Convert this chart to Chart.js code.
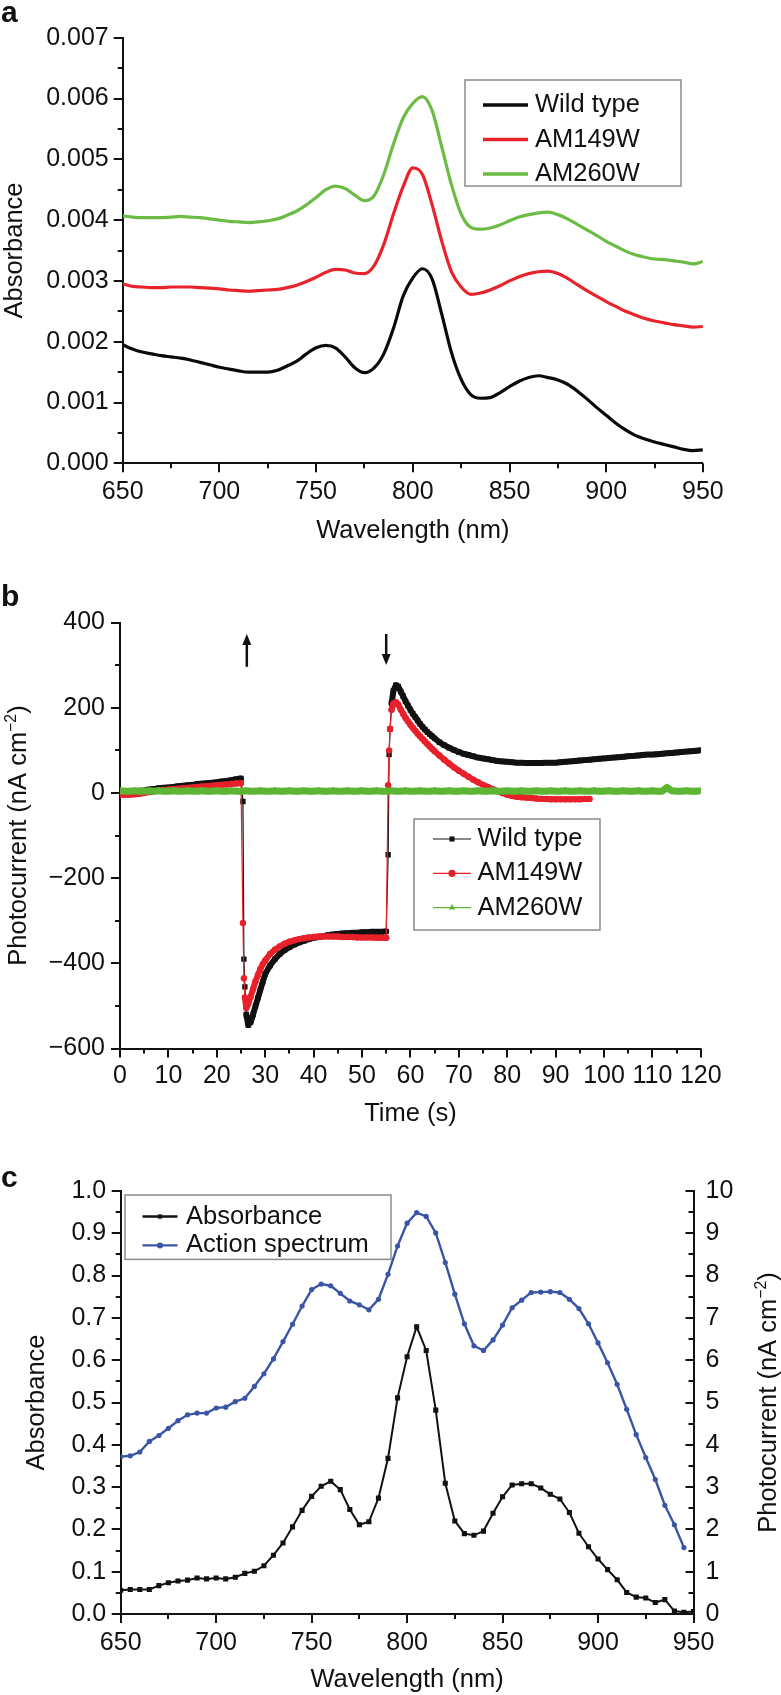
<!DOCTYPE html>
<html><head><meta charset="utf-8">
<script src="https://cdn.jsdelivr.net/npm/chart.js@4.4.1/dist/chart.umd.min.js"></script>
<style>
html,body{margin:0;padding:0;background:#fff;}
body{width:781px;height:1695px;position:relative;overflow:hidden;}
canvas{position:absolute;left:0;}
</style></head><body>
<canvas id="ca" width="781" height="560" style="top:0px"></canvas>
<canvas id="cb" width="781" height="570" style="top:560px"></canvas>
<canvas id="cc" width="781" height="565" style="top:1130px"></canvas>
<script>
const FONT = "'Liberation Sans', Arial, Helvetica, sans-serif";

// ---------- Panel a data ----------
const aWavelength = [650,655,660,665,670,675,680,685,690,695,700,705,710,715,720,725,730,735,740,745,750,755,760,765,770,775,780,785,790,795,800,805,810,815,820,825,830,835,840,845,850,855,860,865,870,875,880,885,890,895,900,905,910,915,920,925,930,935,940,945,950];
const aWildType = [0.00195,0.00188,0.00183,0.00180,0.00177,0.00175,0.00173,0.00170,0.00166,0.00162,0.00158,0.00155,0.00152,0.00150,0.00150,0.00150,0.00153,0.00160,0.00168,0.00180,0.00190,0.00194,0.00190,0.00175,0.00157,0.00149,0.00157,0.00180,0.00222,0.00275,0.00305,0.00320,0.00303,0.00245,0.00182,0.00138,0.00113,0.00107,0.00108,0.00116,0.00126,0.00135,0.00141,0.00144,0.00141,0.00137,0.00130,0.00119,0.00106,0.00092,0.00079,0.00066,0.00055,0.00046,0.00040,0.00035,0.00031,0.00027,0.00023,0.00021,0.00022];
const aAM149W = [0.00295,0.00291,0.00290,0.00289,0.00289,0.00290,0.00290,0.00290,0.00289,0.00288,0.00287,0.00285,0.00284,0.00283,0.00284,0.00285,0.00286,0.00289,0.00293,0.00299,0.00306,0.00314,0.00319,0.00318,0.00313,0.00312,0.00325,0.00360,0.00410,0.00455,0.00486,0.00475,0.00425,0.00365,0.00315,0.00290,0.00278,0.00280,0.00285,0.00292,0.00300,0.00307,0.00312,0.00315,0.00316,0.00312,0.00304,0.00294,0.00284,0.00275,0.00266,0.00258,0.00250,0.00244,0.00238,0.00234,0.00231,0.00228,0.00226,0.00224,0.00225];
const aAM260W = [0.00407,0.00405,0.00404,0.00404,0.00404,0.00405,0.00406,0.00405,0.00404,0.00402,0.00400,0.00398,0.00397,0.00396,0.00397,0.00399,0.00402,0.00408,0.00415,0.00425,0.00437,0.00450,0.00456,0.00452,0.00441,0.00432,0.00440,0.00475,0.00525,0.00568,0.00592,0.00603,0.00580,0.00520,0.00458,0.00410,0.00388,0.00385,0.00387,0.00392,0.00399,0.00405,0.00409,0.00412,0.00413,0.00409,0.00402,0.00393,0.00384,0.00375,0.00365,0.00357,0.00349,0.00343,0.00339,0.00336,0.00335,0.00333,0.00331,0.00328,0.00332];
const aSeriesLabels = ['Wild type','AM149W','AM260W'];
const aXTicks = [650,700,750,800,850,900,950];
const aXTickLabels = ['650','700','750','800','850','900','950'];
const aXMinor = [675,725,775,825,875,925];
const aYTicks = [0,0.001,0.002,0.003,0.004,0.005,0.006,0.007];
const aYTickLabels = ['0.000','0.001','0.002','0.003','0.004','0.005','0.006','0.007'];
const aYMinor = [0.0005,0.0015,0.0025,0.0035,0.0045,0.0055,0.0065];

// ---------- Panel b data ----------
const bWtTime = [0,1,2,3,4,5,6,7,8,9,10,11,12,13,14,15,16,17,18,19,20,21,22,23,24,25,
  25.4,25.6,25.8,26.1,26.5,27,27.5,28,28.5,29,29.5,30,31,32,33,34,35,36,37,38,39,40,41,42,43,44,45,46,47,48,49,50,51,52,53,54,55,
  55.4,55.6,55.8,56.1,56.5,57,57.5,58,58.5,59,59.5,60,60.5,61,61.5,62,62.5,63,63.5,64,64.5,65,
  66,67,68,69,70,71,72,73,74,75,76,77,78,79,80,81,82,83,84,85,86,87,88,89,90,91,92,93,94,95,96,97,98,99,100,101,102,103,104,105,106,107,108,109,110,111,112,113,114,115,116,117,118,119,120];
const bWtCurrent = [1,2,3,4,5,6,8,9,11,12,13,14,16,17,18,19,21,22,23,24,25,27,28,30,32,34,
  -20,-390,-455,-520,-545,-538,-520,-500,-481,-462,-443,-425,-405,-390,-378,-369,-362,-356,-351,-347,-343,-340,-338,-336,-334,-332,-331,-330,-329,-328,-328,-327,-327,-326,-326,-326,-325,
  -145,90,150,210,240,253,250,238,227,215,205,195,186,178,170,162,155,149,143,138,133,128,
  119,112,106,101,96,92,89,86,83,81,79,77,75,74,73,72,71,71,70,70,70,70,71,71,71,72,73,74,75,76,77,78,79,80,81,82,83,84,85,86,87,88,89,90,90,91,92,93,94,95,96,97,98,99,100];
const bMutTime = [0,1,2,3,4,5,6,7,8,9,10,11,12,13,14,15,16,17,18,19,20,21,22,23,24,25,
  25.4,25.6,25.8,26.1,26.5,27,27.5,28,28.5,29,29.5,30,31,32,33,34,35,36,37,38,39,40,41,42,43,44,45,46,47,48,49,50,51,52,53,54,55,
  55.4,55.6,55.8,56.1,56.5,57,57.5,58,58.5,59,59.5,60,60.5,61,61.5,62,62.5,63,63.5,64,64.5,65,
  66,67,68,69,70,71,72,73,74,75,76,77,78,79,80,81,82,83,84,85,86,87,88,89,90,91,92,93,94,95,96,97];
const bMutCurrent = [-4,-4,-4,-3,-2,0,2,4,6,7,8,9,10,11,12,13,14,15,16,17,18,19,20,21,22,23,
  -305,-435,-480,-505,-495,-478,-460,-442,-427,-413,-402,-393,-378,-368,-360,-354,-349,-346,-343,-341,-339,-338,-337,-337,-337,-337,-337,-338,-338,-338,-339,-339,-339,-339,-340,-340,-340,
  18,100,150,195,210,213,207,196,186,176,168,160,153,146,139,133,127,121,115,109,103,98,
  88,78,69,60,52,45,38,31,25,19,14,9,4,0,-4,-7,-9,-10,-11,-12,-13,-14,-14,-15,-15,-15,-15,-15,-15,-15,-14,-14];
const bM260Time = [0,1,2,3,4,5,6,7,8,9,10,11,12,13,14,15,16,17,18,19,20,21,22,23,24,25,26,27,28,29,30,31,32,33,34,35,36,37,38,39,40,41,42,43,44,45,46,47,48,49,50,51,52,53,54,55,56,57,58,59,60,61,62,63,64,65,66,67,68,69,70,71,72,73,74,75,76,77,78,79,80,81,82,83,84,85,86,87,88,89,90,91,92,93,94,95,96,97,98,99,100,101,102,103,104,105,106,107,108,109,110,111,112,113,114,115,116,117,118,119,120];
const bM260Current = [5,4,4,5,4,4,5,4,5,4,4,5,4,4,5,4,4,5,4,4,5,4,4,5,4,4,5,4,4,5,4,4,5,4,4,5,4,4,5,4,4,5,4,4,5,4,4,5,4,4,5,4,4,5,4,4,5,4,4,5,4,4,5,4,4,5,4,4,5,4,4,5,4,4,5,4,4,5,4,4,5,4,4,5,4,4,5,4,4,5,4,4,5,4,4,5,4,4,5,4,4,5,4,4,5,4,4,5,4,4,5,4,4,13,5,4,4,5,4,4,5];
const bSeriesLabels = ['Wild type','AM149W','AM260W'];
const bXTicks = [0,10,20,30,40,50,60,70,80,90,100,110,120];
const bXTickLabels = ['0','10','20','30','40','50','60','70','80','90','100','110','120'];
const bXMinor = [5,15,25,35,45,55,65,75,85,95,105,115];
const bYTicks = [-600,-400,-200,0,200,400];
const bYTickLabels = ['\u2212600','\u2212400','\u2212200','0','200','400'];
const bYMinor = [-500,-300,-100,100,300];
const bArrowTime = [26.2, 55.0];
const bArrowFrom = [296, 373];
const bArrowTo = [373, 300];

// ---------- Panel c data ----------
const cWavelength = [650,655,660,665,670,675,680,685,690,695,700,705,710,715,720,725,730,735,740,745,750,755,760,765,770,775,780,785,790,795,800,805,810,815,820,825,830,835,840,845,850,855,860,865,870,875,880,885,890,895,900,905,910,915,920,925,930,935,940,945,950];
const cAbsorbance = [0.056,0.058,0.058,0.058,0.067,0.074,0.078,0.080,0.085,0.083,0.085,0.083,0.087,0.096,0.101,0.114,0.139,0.168,0.206,0.245,0.278,0.302,0.314,0.294,0.247,0.211,0.218,0.274,0.368,0.511,0.608,0.679,0.623,0.482,0.309,0.220,0.190,0.186,0.196,0.238,0.277,0.305,0.308,0.308,0.298,0.283,0.272,0.240,0.191,0.159,0.130,0.105,0.081,0.051,0.040,0.038,0.027,0.034,0.007,0.004,0.006];
const cAction = [3.72,3.74,3.83,4.08,4.22,4.39,4.57,4.71,4.75,4.75,4.87,4.89,5.02,5.10,5.38,5.68,6.03,6.44,6.85,7.28,7.67,7.80,7.76,7.58,7.40,7.31,7.19,7.44,8.03,8.70,9.24,9.49,9.40,9.01,8.31,7.56,6.86,6.34,6.23,6.48,6.83,7.24,7.42,7.60,7.61,7.62,7.60,7.44,7.22,6.86,6.41,5.94,5.43,4.84,4.24,3.70,3.18,2.57,2.11,1.57,null];
const cSeriesLabels = ['Absorbance','Action spectrum'];
const cXTicks = [650,700,750,800,850,900,950];
const cXTickLabels = ['650','700','750','800','850','900','950'];
const cXMinor = [675,725,775,825,875,925];
const cYTicks = [0,0.1,0.2,0.3,0.4,0.5,0.6,0.7,0.8,0.9,1.0];
const cYTickLabels = ['0.0','0.1','0.2','0.3','0.4','0.5','0.6','0.7','0.8','0.9','1.0'];
const cYMinor = [0.05,0.15,0.25,0.35,0.45,0.55,0.65,0.75,0.85,0.95];
const cY2Ticks = [0,1,2,3,4,5,6,7,8,9,10];
const cY2TickLabels = ['0','1','2','3','4','5','6','7','8','9','10'];
const cY2Minor = [0.5,1.5,2.5,3.5,4.5,5.5,6.5,7.5,8.5,9.5];

// ---------- helpers ----------
Chart.defaults.font.family = FONT;
Chart.defaults.color = '#111';

function pts(xs, ys){ return xs.map((x,i)=>({x:x, y:ys[i]})); }

function drawMarker(ctx, style, x, y, r, color){
  ctx.fillStyle = color; ctx.beginPath();
  if (style === 'rect') { const s = r*Math.SQRT1_2; ctx.rect(x-s, y-s, 2*s, 2*s); }
  else if (style === 'triangle') { ctx.moveTo(x, y-r); ctx.lineTo(x+r*0.866, y+r*0.5); ctx.lineTo(x-r*0.866, y+r*0.5); ctx.closePath(); }
  else { ctx.arc(x, y, r, 0, Math.PI*2); }
  ctx.fill();
}

const TICKFONT = {family: FONT, size: 25};
const TITLEFONT = {family: FONT, size: 25.5};
const BORDER = {display: true, color: '#111', width: 2};
const NOGRID = {display: false, drawTicks: false, drawOnChartArea: false};

function axis(opts, values, labels, padding, extra){
  return Object.assign({
    type: 'linear', grid: NOGRID, border: BORDER,
    afterBuildTicks: (scale)=>{ scale.ticks = values.map(v=>({value:v})); },
    ticks: {font: TICKFONT, color: '#111', padding: padding, maxRotation: 0, autoSkip: false,
            callback: (v, i)=> labels[i]}
  }, opts, extra || {});
}

const customTicks = {
  id: 'customTicks',
  afterDraw(chart, args, o){
    const ctx = chart.ctx;
    ctx.save(); ctx.strokeStyle = '#111'; ctx.lineWidth = 2; ctx.lineCap = 'butt';
    (o.items||[]).forEach(it=>{
      const sc = chart.scales[it.scale];
      const draw = (v, len)=>{
        const p = Math.round(sc.getPixelForValue(v));
        ctx.beginPath();
        if (sc.isHorizontal()) { const y = chart.chartArea.bottom; ctx.moveTo(p, y); ctx.lineTo(p, y + len); }
        else { const x = it.side === 'left' ? chart.chartArea.left : chart.chartArea.right; ctx.moveTo(x, p); ctx.lineTo(x + len*it.dir, p); }
        ctx.stroke();
      };
      it.major.forEach(v=>draw(v, it.majorLen));
      it.minor.forEach(v=>draw(v, it.minorLen));
    });
    ctx.restore();
  }
};

const boxLegend = {
  id: 'boxLegend',
  afterDraw(chart, args, o){
    const ctx = chart.ctx;
    ctx.save();
    ctx.strokeStyle = '#8a8a8a'; ctx.lineWidth = 1.5;
    ctx.strokeRect(o.x, o.y, o.w, o.h);
    o.rows.forEach((idx, i)=>{
      const ds = chart.data.datasets[idx];
      const y = o.firstY + i*o.gap;
      ctx.strokeStyle = ds.borderColor; ctx.lineWidth = o.lineWidth;
      ctx.beginPath(); ctx.moveTo(o.lineX0, y); ctx.lineTo(o.lineX1, y); ctx.stroke();
      if (o.markers) drawMarker(ctx, ds.pointStyle, (o.lineX0+o.lineX1)/2, y, o.markerR, ds.borderColor);
      ctx.fillStyle = '#111'; ctx.font = o.size + 'px ' + FONT; ctx.textBaseline = 'middle'; ctx.textAlign = 'left';
      ctx.fillText(ds.label, o.textX, y);
    });
    ctx.restore();
  }
};

const panelText = {
  id: 'panelText',
  afterDraw(chart, args, o){
    const ctx = chart.ctx;
    ctx.save(); ctx.fillStyle = '#111';
    if (o.letter) {
      ctx.font = 'bold ' + o.letter.size + 'px ' + FONT; ctx.textBaseline = 'alphabetic'; ctx.textAlign = 'left';
      ctx.fillText(o.letter.text, o.letter.x, o.letter.y);
    }
    (o.titles||[]).forEach(t=>{
      const cy = chart.chartArea.top + (chart.chartArea.bottom - chart.chartArea.top)/2;
      ctx.save();
      ctx.translate(t.x, cy); ctx.rotate(-Math.PI/2);
      const big = t.size + 'px ' + FONT, small = (t.size*0.62) + 'px ' + FONT;
      ctx.font = big; const w1 = ctx.measureText(t.main).width; const w3 = ctx.measureText(t.tail).width;
      ctx.font = small; const w2 = ctx.measureText(t.sup).width;
      let sx = -(w1+w2+w3)/2; const base = t.size*0.36;
      ctx.textBaseline = 'alphabetic'; ctx.textAlign = 'left';
      ctx.font = big; ctx.fillText(t.main, sx, base); sx += w1;
      ctx.font = small; ctx.fillText(t.sup, sx, base - t.size*0.40); sx += w2;
      ctx.font = big; ctx.fillText(t.tail, sx, base);
      ctx.restore();
    });
    ctx.restore();
  }
};

const arrows = {
  id: 'arrows',
  afterDatasetsDraw(chart, args, o){
    if (!o.times) return;
    const ctx = chart.ctx, xs = chart.scales.x, ys = chart.scales.y;
    ctx.save(); ctx.strokeStyle = '#111'; ctx.fillStyle = '#111'; ctx.lineWidth = 2.5;
    o.times.forEach((t, i)=>{
      const px = xs.getPixelForValue(t), p0 = ys.getPixelForValue(o.from[i]), p1 = ys.getPixelForValue(o.to[i]);
      const dir = p1 < p0 ? -1 : 1, head = 11, hw = 4.5;
      ctx.beginPath(); ctx.moveTo(px, p0); ctx.lineTo(px, p1 - dir*head*0.6); ctx.stroke();
      ctx.beginPath(); ctx.moveTo(px, p1); ctx.lineTo(px - hw, p1 - dir*head); ctx.lineTo(px + hw, p1 - dir*head); ctx.closePath(); ctx.fill();
    });
    ctx.restore();
  }
};

function fitW(w){ return (s)=>{ s.width = w; }; }
function fitH(h){ return (s)=>{ s.height = h; }; }

// segment width: thin line across the fast light-on / light-off jumps, thick band elsewhere
function bandWidth(thick){
  return (c)=>{
    const dx = c.p1.parsed.x - c.p0.parsed.x, dy = Math.abs(c.p1.parsed.y - c.p0.parsed.y);
    return (dy / dx > 100) ? 1.2 : thick;
  };
}

// ---------- Panel a ----------
new Chart(document.getElementById('ca'), {
  type: 'line',
  data: { datasets: [
    {label: aSeriesLabels[0], data: pts(aWavelength, aWildType), borderColor: '#0a0a0a', borderWidth: 3.2, pointRadius: 0, cubicInterpolationMode: 'monotone', order: 3},
    {label: aSeriesLabels[1], data: pts(aWavelength, aAM149W), borderColor: '#e8232b', borderWidth: 3.2, pointRadius: 0, cubicInterpolationMode: 'monotone', order: 2},
    {label: aSeriesLabels[2], data: pts(aWavelength, aAM260W), borderColor: '#6cbb45', borderWidth: 3.2, pointRadius: 0, cubicInterpolationMode: 'monotone', order: 1}
  ]},
  options: {
    responsive: false, animation: false, devicePixelRatio: 1,
    layout: { autoPadding: false, padding: {left: 0, right: 78.1, top: 37.7, bottom: 0} },
    plugins: {
      legend: {display: false}, tooltip: {enabled: false},
      customTicks: { items: [
        {scale: 'x', major: aXTicks, minor: aXMinor, majorLen: 9, minorLen: 5},
        {scale: 'y', side: 'left', dir: -1, major: aYTicks, minor: aYMinor, majorLen: 9, minorLen: 5}
      ]},
      boxLegend: { x: 465, y: 80, w: 216, h: 106, rows: [0,1,2], firstY: 105, gap: 34.5, lineX0: 483, lineX1: 528, lineWidth: 3.5, textX: 535, size: 25.5, markers: false },
      panelText: { letter: {text: 'a', x: 1, y: 22, size: 30} }
    },
    scales: {
      x: axis({min: 650, max: 950, afterFit: fitH(96.7),
               title: {display: true, text: 'Wavelength (nm)', font: TITLEFONT, color: '#111', padding: {top: 0, bottom: 14}}},
              aXTicks, aXTickLabels, 13.5),
      y: axis({min: 0, max: 0.007, afterFit: fitW(122.7),
               title: {display: true, text: 'Absorbance', font: TITLEFONT, color: '#111', padding: {top: 0, bottom: 0}}},
              aYTicks, aYTickLabels, 14)
    }
  },
  plugins: [customTicks, boxLegend, panelText]
});

// ---------- Panel b ----------
new Chart(document.getElementById('cb'), {
  type: 'line',
  data: { datasets: [
    {label: bSeriesLabels[0], data: pts(bWtTime, bWtCurrent), borderColor: '#111111', backgroundColor: '#111111', borderWidth: 6, pointStyle: 'rect', pointRadius: 3.8, pointBorderWidth: 0, borderJoinStyle: 'round', borderCapStyle: 'round', segment: {borderWidth: bandWidth(6)}, order: 3},
    {label: bSeriesLabels[1], data: pts(bMutTime, bMutCurrent), borderColor: '#e8202a', backgroundColor: '#e8202a', borderWidth: 6, pointStyle: 'circle', pointRadius: 3.2, pointBorderWidth: 0, borderJoinStyle: 'round', borderCapStyle: 'round', segment: {borderWidth: bandWidth(6)}, order: 2},
    {label: bSeriesLabels[2], data: pts(bM260Time, bM260Current), borderColor: '#5db534', backgroundColor: '#5db534', borderWidth: 7, pointStyle: 'triangle', pointRadius: 4, pointBorderWidth: 0, borderJoinStyle: 'round', order: 1}
  ]},
  options: {
    responsive: false, animation: false, devicePixelRatio: 1,
    layout: { autoPadding: false, padding: {left: 0, right: 80.2, top: 62.5, bottom: 0} },
    plugins: {
      legend: {display: false}, tooltip: {enabled: false},
      customTicks: { items: [
        {scale: 'x', major: bXTicks, minor: bXMinor, majorLen: 9, minorLen: 5},
        {scale: 'y', side: 'left', dir: -1, major: bYTicks, minor: bYMinor, majorLen: 9, minorLen: 5}
      ]},
      boxLegend: { x: 414, y: 259, w: 186, h: 111, rows: [0,1,2], firstY: 279, gap: 34.3, lineX0: 433, lineX1: 471, lineWidth: 1.2, textX: 477.5, size: 25.5, markers: true, markerR: 3.6 },
      panelText: { letter: {text: 'b', x: 1, y: 46, size: 30},
                   titles: [{x: 17, main: 'Photocurrent (nA cm', sup: '\u22122', tail: ')', size: 25.5}] },
      arrows: { times: bArrowTime, from: bArrowFrom, to: bArrowTo }
    },
    scales: {
      x: axis({min: 0, max: 120, afterFit: fitH(81.4),
               title: {display: true, text: 'Time (s)', font: TITLEFONT, color: '#111', padding: {top: 0, bottom: 0.7}}},
              bXTicks, bXTickLabels, 13),
      y: axis({min: -600, max: 400, afterFit: fitW(120), title: {display: false}},
              bYTicks, bYTickLabels, 15)
    }
  },
  plugins: [customTicks, boxLegend, panelText, arrows]
});

// ---------- Panel c ----------
new Chart(document.getElementById('cc'), {
  type: 'line',
  data: { datasets: [
    {label: cSeriesLabels[0], data: pts(cWavelength, cAbsorbance), yAxisID: 'y', borderColor: '#111111', backgroundColor: '#111111', borderWidth: 2, pointStyle: 'rect', pointRadius: 3.6, pointBorderWidth: 0, order: 2},
    {label: cSeriesLabels[1], data: pts(cWavelength, cAction), yAxisID: 'y2', borderColor: '#3a55a5', backgroundColor: '#3a55a5', borderWidth: 2.4, pointStyle: 'circle', pointRadius: 2.6, pointBorderWidth: 0, order: 1}
  ]},
  options: {
    responsive: false, animation: false, devicePixelRatio: 1,
    layout: { autoPadding: false, padding: {left: 0, right: 0, top: 61, bottom: 0} },
    plugins: {
      legend: {display: false}, tooltip: {enabled: false},
      customTicks: { items: [
        {scale: 'x', major: cXTicks, minor: cXMinor, majorLen: 9, minorLen: 5},
        {scale: 'y', side: 'left', dir: -1, major: cYTicks, minor: cYMinor, majorLen: 9, minorLen: 5},
        {scale: 'y2', side: 'right', dir: -1, major: cY2Ticks, minor: cY2Minor, majorLen: 8, minorLen: 5}
      ]},
      boxLegend: { x: 125, y: 65, w: 266, h: 64.4, rows: [0,1], firstY: 86.5, gap: 28.9, lineX0: 142.5, lineX1: 177.5, lineWidth: 2.4, textX: 186, size: 25.5, markers: true, markerR: 3 },
      panelText: { letter: {text: 'c', x: 1, y: 57, size: 30},
                   titles: [{x: 767, main: 'Photocurrent (nA cm', sup: '\u22122', tail: ')', size: 25.5}] }
    },
    scales: {
      x: axis({min: 650, max: 950, afterFit: fitH(81),
               title: {display: true, text: 'Wavelength (nm)', font: TITLEFONT, color: '#111', padding: {top: 0, bottom: 0.2}}},
              cXTicks, cXTickLabels, 14),
      y: axis({position: 'left', min: 0, max: 1.0, afterFit: fitW(120.7),
               title: {display: true, text: 'Absorbance', font: TITLEFONT, color: '#111', padding: {top: 22, bottom: 0}}},
              cYTicks, cYTickLabels, 14.5),
      y2: axis({position: 'right', min: 0, max: 10, afterFit: fitW(87.5), title: {display: false}},
              cY2Ticks, cY2TickLabels, 12)
    }
  },
  plugins: [customTicks, boxLegend, panelText]
});
</script>
</body></html>
